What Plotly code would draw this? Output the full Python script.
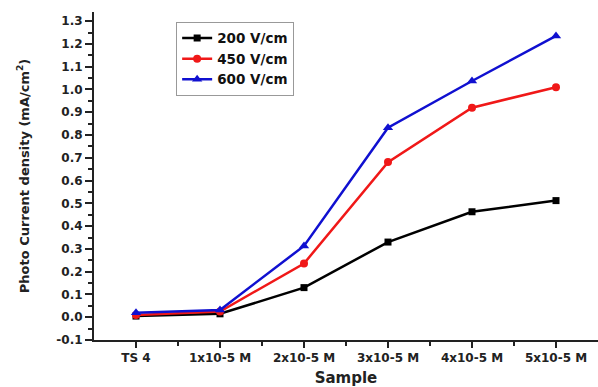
import plotly.graph_objects as go

# Samples along the x axis
samples = ["TS 4", "1x10-5 M", "2x10-5 M", "3x10-5 M", "4x10-5 M", "5x10-5 M"]

# Photo current density (mA/cm^2) at each applied field
j_200 = [0.005, 0.015, 0.130, 0.330, 0.463, 0.512]
j_450 = [0.010, 0.025, 0.236, 0.681, 0.920, 1.010]
j_600 = [0.020, 0.032, 0.313, 0.832, 1.037, 1.235]

y_ticks = [-0.1, 0.0, 0.1, 0.2, 0.3, 0.4, 0.5, 0.6, 0.7, 0.8, 0.9, 1.0, 1.1, 1.2, 1.3]

xpos = list(range(len(samples)))

series = [
    ("200 V/cm", j_200, "#000000", "square", 7),
    ("450 V/cm", j_450, "#f01818", "circle", 8),
    ("600 V/cm", j_600, "#1010d0", "triangle-up", 9),
]

fig = go.Figure()
for name, vals, color, sym, size in series:
    fig.add_trace(go.Scatter(
        x=xpos, y=vals, name=name, mode="lines+markers",
        line=dict(color=color, width=2.5),
        marker=dict(color=color, symbol=sym, size=size),
    ))

font_family = "DejaVu Sans"

fig.update_layout(
    width=598, height=387,
    margin=dict(l=94, r=0, t=12, b=47),
    paper_bgcolor="white", plot_bgcolor="white",
    font=dict(family=font_family, color="#222222"),
    showlegend=True,
    legend=dict(
        x=0.163, y=0.97, xanchor="left", yanchor="top",
        bgcolor="white", bordercolor="#999999", borderwidth=1,
        font=dict(family=font_family, size=13.5, color="#111111", weight="bold"),
        tracegroupgap=0, itemwidth=30,
    ),
)

fig.update_xaxes(
    range=[-0.5, 5.5],
    tickmode="array", tickvals=xpos, ticktext=samples,
    ticks="outside", ticklen=6, tickwidth=1.5, tickcolor="#222222",
    showline=True, linecolor="#222222", linewidth=2,
    showgrid=False, zeroline=False,
    tickfont=dict(family=font_family, size=12, color="#222222", weight="bold"),
    minor=dict(tickvals=[0.5, 1.5, 2.5, 3.5, 4.5], ticks="outside", ticklen=4,
               tickwidth=1.5, tickcolor="#222222", showgrid=False),
    title=dict(text="Sample", standoff=12,
               font=dict(family=font_family, size=15, color="#222222", weight="bold")),
)

fig.update_yaxes(
    range=[-0.1, 1.34],
    tickmode="array", tickvals=y_ticks,
    ticktext=[f"{v:.1f}" for v in y_ticks],
    ticks="outside", ticklen=7, tickwidth=1.5, tickcolor="#222222",
    showline=True, linecolor="#222222", linewidth=2,
    showgrid=False, zeroline=False,
    tickfont=dict(family=font_family, size=12, color="#222222", weight="bold"),
    minor=dict(dtick=0.05, tick0=-0.1, ticks="outside", ticklen=4,
               tickwidth=1.5, tickcolor="#222222", showgrid=False),
    title=dict(text="Photo Current density (mA/cm<sup>2</sup>)", standoff=24,
               font=dict(family=font_family, size=13, color="#222222", weight="bold")),
)

fig.write_html("out.html")
